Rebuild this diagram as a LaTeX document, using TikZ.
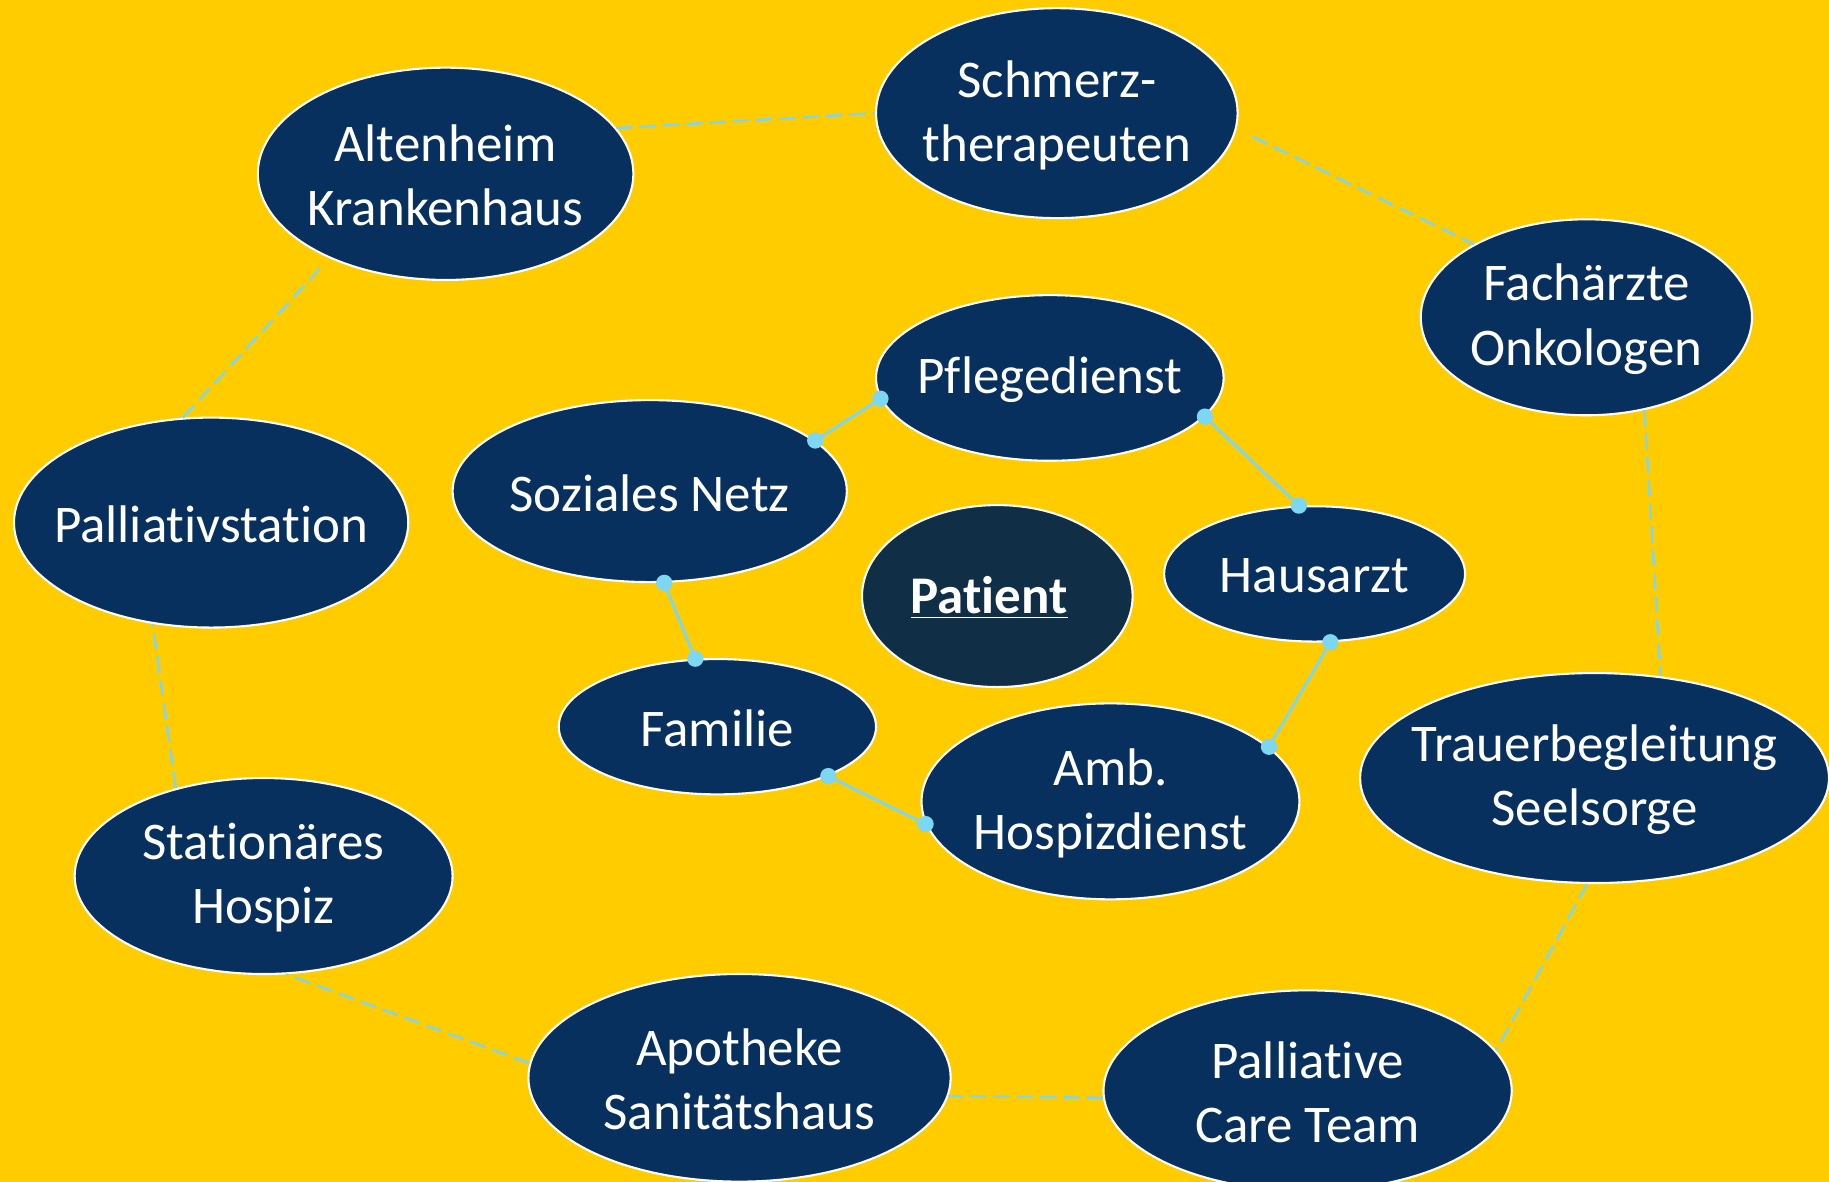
\documentclass[tikz,border=0pt]{standalone}
\usepackage{fontspec}
\setmainfont{Carlito}[Ligatures=NoCommon]
\usetikzlibrary{shapes.geometric}
\definecolor{bg}{HTML}{FFCC00}
\definecolor{nodeblue}{HTML}{08305F}
\definecolor{patblue}{HTML}{112E47}
\definecolor{lblue}{HTML}{7DD6F2}
\begin{document}
\begin{tikzpicture}[x=0.5pt,y=-0.5pt,
  ell/.style n args={2}{ellipse, draw=white, line width=0.9pt, fill=nodeblue,
     inner sep=0pt, minimum width=#1pt, minimum height=#2pt},
  lbl/.style={text=white, align=center, inner sep=0pt, yshift=-0.8pt,
     font=\fontsize{22.7}{27.5}\selectfont},
  dashcon/.style={draw=lblue, line width=1.05pt, dash pattern=on 7pt off 3pt},
  solcon/.style={draw=lblue, line width=1.25pt}]
\fill[bg] (0,0) rectangle (1568,1013);
\useasboundingbox (0,0) rectangle (1568,1013);

% ellipses
\node[ell={161}{91}] (alt) at (382,149) {};
\node[ell={155}{90}] (sch) at (906,97) {};
\node[ell={142}{84}] (fac) at (1360,272) {};
\node[ell={149}{71}] (pfl) at (900,324) {};
\node[ell={169}{78}] (soz) at (557,421) {};
\node[ell={169}{90}] (pal) at (181,448) {};
\node[ell={116}{78}, fill=patblue] (pat) at (855,511) {};
\node[ell={129}{58}] (hau) at (1127,492) {};
\node[ell={136}{58}] (fam) at (615,623) {};
\node[ell={162}{84}] (amb) at (952,687) {};
\node[ell={201}{90}] (tra) at (1367,667) {};
\node[ell={162}{84}] (sta) at (226,751) {};
\node[ell={181}{89}] (apo) at (634,924) {};
\node[ell={175}{86}] (pct) at (1121,935) {};

% labels
\node[lbl] (alt-t) at (alt) {Altenheim\\Krankenhaus};
\node[lbl] (sch-t) at (sch) {Schmerz-\\therapeuten};
\node[lbl] (fac-t) at (fac) {Fachärzte\\Onkologen};
\node[lbl] (pfl-t) at (pfl) {Pflegedienst};
\node[lbl] (soz-t) at (soz) {Soziales Netz};
\node[lbl] (pal-t) at (pal) {Palliativstation};
\node[lbl] (pat-t) at (848,511) {\bfseries\underline{Patient}};
\node[lbl] (hau-t) at (hau) {Hausarzt};
\node[lbl] (fam-t) at (fam) {Familie};
\node[lbl] (amb-t) at (amb) {Amb.\\Hospizdienst};
\node[lbl] (tra-t) at (tra) {Trauerbegleitung\\Seelsorge};
\node[lbl] (sta-t) at (sta) {Stationäres\\Hospiz};
\node[lbl] (apo-t) at (apo) {Apotheke\\Sanitätshaus};
\node[lbl] (pct-t) at (pct) {Palliative\\Care Team};

% outer dashed ring
\draw[dashcon] (alt.15) -- (sch.180);
\draw[dashcon, shorten <=7.5pt] (sch.-5) -- (fac.147);
\draw[dashcon] (fac.-58) -- (tra.57);
\draw[dashcon] (tra.-94) -- (pct.12);
\draw[dashcon] (pct.182) -- (apo.-5);
\draw[dashcon] (apo.176) -- (sta.-77);
\draw[dashcon] (sta.135) -- (pal.-120);
\draw[dashcon, shorten >=6pt] (pal.105) -- (alt.-144);

% inner solid ring
\draw[solcon] (pfl.187) -- (soz.17);
\draw[solcon] (pfl.-14) -- (hau.103);
\draw[solcon] (hau.-77) -- (amb.19);
\draw[solcon] (amb.187) -- (fam.-24);
\draw[solcon] (fam.108) -- (soz.-81);
\foreach \p in {pfl.187, soz.17, pfl.-14, hau.103, hau.-77, amb.19, amb.187, fam.-24, fam.108, soz.-81}
  \fill[lblue] (\p) circle (3.5pt);
\end{tikzpicture}
\end{document}
